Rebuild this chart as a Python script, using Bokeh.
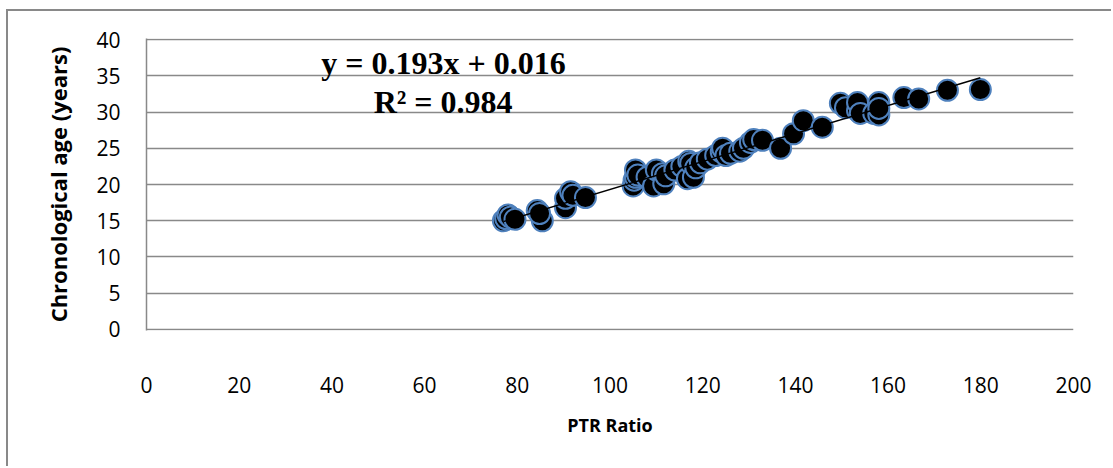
from bokeh.plotting import figure
from bokeh.models import Range1d, Label, FixedTicker, ColumnDataSource
from bokeh.embed import file_html
from bokeh.resources import INLINE

# ---- data ----
ptr_ratio = [77.0, 77.5, 78.0, 78.5, 79.5, 84.3, 85.4, 84.8, 90.4, 90.4,
             91.5, 92.0, 94.7, 105.0, 105.2, 105.5, 105.5, 106.0, 108.0, 109.4,
             110.0, 111.3, 111.6, 112.0, 114.0, 115.5, 116.7, 117.0, 117.4, 118.0,
             118.5, 119.5, 121.0, 122.8, 124.0, 124.3, 125.0, 126.0, 128.0, 128.8,
             130.3, 131.0, 132.9, 136.8, 139.6, 141.7, 145.8, 149.7, 150.8, 153.4,
             153.4, 154.0, 156.9, 158.0, 158.0, 158.0, 163.4, 166.6, 172.8, 179.9]
age_years = [15.0, 15.3, 15.8, 15.5, 15.2, 16.4, 15.0, 16.0, 16.8, 18.1,
             19.0, 18.5, 18.2, 19.8, 20.6, 21.0, 22.0, 21.3, 21.0, 19.8,
             22.0, 21.5, 20.1, 21.2, 22.0, 22.5, 20.8, 23.2, 22.9, 21.0,
             22.3, 23.0, 23.5, 24.0, 24.5, 25.0, 24.0, 24.3, 24.6, 25.0,
             25.8, 26.2, 26.1, 25.0, 27.0, 28.8, 27.9, 31.2, 30.6, 30.2,
             31.3, 29.8, 29.8, 29.6, 31.3, 30.5, 32.0, 31.8, 33.0, 33.1]
trend_slope = 0.193
trend_intercept = 0.016
equation_text = "y = 0.193x + 0.016"
r2_text = "R\u00b2 = 0.984"
x_ticks = [0, 20, 40, 60, 80, 100, 120, 140, 160, 180, 200]
y_ticks = [0, 5, 10, 15, 20, 25, 30, 35, 40]
x_title = "PTR Ratio"
y_title = "Chronological age (years)"

GRID = "#898989"

p = figure(width=1105, height=457, output_backend="svg", toolbar_location=None,
           x_range=Range1d(0, 200), y_range=Range1d(-0.14, 40.14),
           min_border_left=138, min_border_right=40,
           min_border_top=27, min_border_bottom=138)
p.styles = {"margin-left": "6px", "margin-top": "9px",
            "border-left": "2px solid #898989", "border-top": "2px solid #898989"}
p.outline_line_color = None
p.background_fill_color = "white"
p.border_fill_color = "white"

p.xgrid.visible = False
p.ygrid.grid_line_color = GRID
p.ygrid.grid_line_width = 1.5
p.ygrid.ticker = FixedTicker(ticks=y_ticks)

p.xaxis.ticker = FixedTicker(ticks=x_ticks)
p.yaxis.ticker = FixedTicker(ticks=y_ticks)

p.xaxis.axis_line_color = None
p.xaxis.major_tick_line_color = None
p.xaxis.minor_tick_line_color = None
p.xaxis.major_label_standoff = 40
p.xaxis.axis_label = x_title
p.xaxis.axis_label_standoff = 17
p.xaxis.axis_label_text_font = "Open Sans"
p.xaxis.axis_label_text_font_style = "bold"
p.xaxis.axis_label_text_font_size = "18px"

p.yaxis.axis_line_color = GRID
p.yaxis.axis_line_width = 1.5
p.yaxis.major_tick_line_color = None
p.yaxis.minor_tick_line_color = None
p.yaxis.major_tick_out = 0
p.yaxis.major_tick_in = 0
p.yaxis.major_label_standoff = 26
p.yaxis.axis_label = y_title
p.yaxis.axis_label_standoff = 20
p.yaxis.axis_label_text_font = "Open Sans"
p.yaxis.axis_label_text_font_style = "bold"
p.yaxis.axis_label_text_font_size = "22px"

for ax in (p.xaxis, p.yaxis):
    ax.major_label_text_font = "Open Sans"
    ax.major_label_text_font_size = "21px"
    ax.major_label_text_color = "black"
    ax.axis_label_text_color = "black"

src = ColumnDataSource(dict(x=ptr_ratio, y=age_years))
p.scatter("x", "y", source=src, size=21, fill_color="black",
          line_color="#4F81BD", line_width=2)

x0, x1 = min(ptr_ratio), max(ptr_ratio)
p.line([x0, x1], [trend_slope * x0 + trend_intercept, trend_slope * x1 + trend_intercept],
       line_color="black", line_width=1.5)

p.add_layout(Label(x=64.1, y=36.7, text=equation_text, text_font="Liberation Serif",
                   text_font_style="bold", text_font_size="32px", text_align="center",
                   text_baseline="alphabetic", text_color="black"))
p.add_layout(Label(x=64.0, y=31.35, text=r2_text, text_font="Liberation Serif",
                   text_font_style="bold", text_font_size="32px", text_align="center",
                   text_baseline="alphabetic", text_color="black"))

open("out.html", "w").write(file_html(p, INLINE))
